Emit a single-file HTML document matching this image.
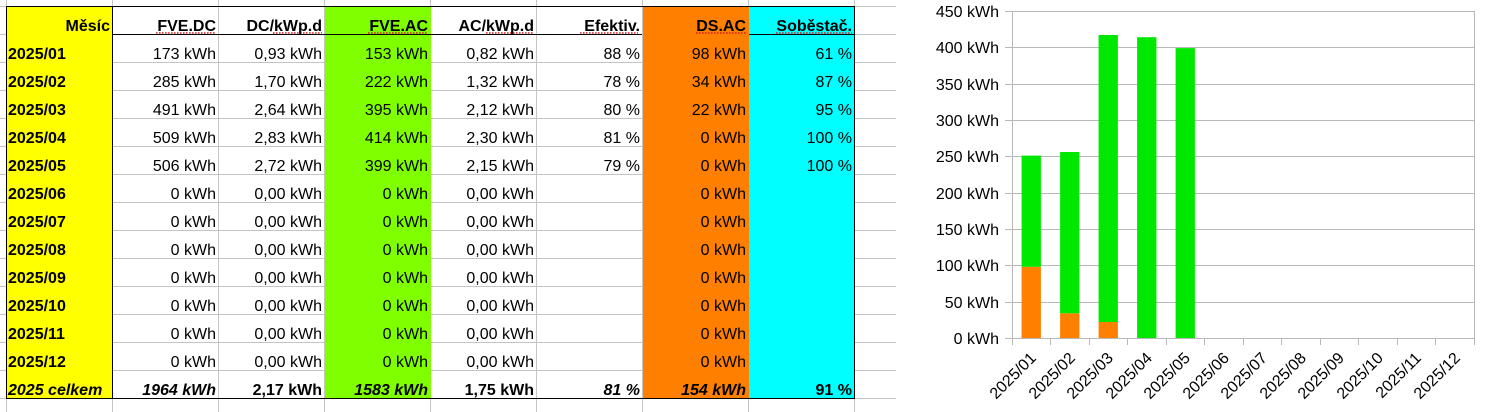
<!DOCTYPE html>
<html><head><meta charset="utf-8"><style>
html,body{margin:0;padding:0;background:#fff;}
svg{display:block;}
text{font-family:"Liberation Sans",Arial,sans-serif;font-size:16px;fill:#000;}
.b{font-weight:bold;}
.bi{font-weight:bold;font-style:italic;}
.e{text-anchor:end;}
</style></head><body>
<svg width="1486" height="412" viewBox="0 0 1486 412" xmlns="http://www.w3.org/2000/svg">
<rect x="0" y="0" width="1486" height="412" fill="#fff"/>
<!-- spreadsheet gridlines -->
<g stroke="#c4c4c4" stroke-width="1" shape-rendering="crispEdges">
<line x1="0" y1="6.5" x2="896" y2="6.5"/>
<line x1="0" y1="34.5" x2="896" y2="34.5"/>
<line x1="0" y1="62.5" x2="896" y2="62.5"/>
<line x1="0" y1="90.5" x2="896" y2="90.5"/>
<line x1="0" y1="118.5" x2="896" y2="118.5"/>
<line x1="0" y1="146.5" x2="896" y2="146.5"/>
<line x1="0" y1="174.5" x2="896" y2="174.5"/>
<line x1="0" y1="202.5" x2="896" y2="202.5"/>
<line x1="0" y1="230.5" x2="896" y2="230.5"/>
<line x1="0" y1="258.5" x2="896" y2="258.5"/>
<line x1="0" y1="286.5" x2="896" y2="286.5"/>
<line x1="0" y1="314.5" x2="896" y2="314.5"/>
<line x1="0" y1="342.5" x2="896" y2="342.5"/>
<line x1="0" y1="370.5" x2="896" y2="370.5"/>
<line x1="0" y1="398.5" x2="896" y2="398.5"/>
<line x1="6.5" y1="0" x2="6.5" y2="412"/>
<line x1="112.5" y1="0" x2="112.5" y2="412"/>
<line x1="218.5" y1="0" x2="218.5" y2="412"/>
<line x1="324.5" y1="0" x2="324.5" y2="412"/>
<line x1="430.5" y1="0" x2="430.5" y2="412"/>
<line x1="536.5" y1="0" x2="536.5" y2="412"/>
<line x1="642.5" y1="0" x2="642.5" y2="412"/>
<line x1="748.5" y1="0" x2="748.5" y2="412"/>
<line x1="854.5" y1="0" x2="854.5" y2="412"/>
</g>
<!-- column fills -->
<g shape-rendering="crispEdges">
<rect x="7" y="7" width="105" height="391" fill="#ffff00"/>
<rect x="325" y="7" width="106" height="391" fill="#80ff00"/>
<rect x="643" y="7" width="106" height="391" fill="#ff8000"/>
<rect x="749" y="7" width="105" height="391" fill="#00ffff"/>
</g>
<!-- black borders -->
<g stroke="#000" stroke-width="1.3" shape-rendering="crispEdges" fill="none">
<rect x="6.5" y="6.5" width="848" height="392"/>
<line x1="112.5" y1="6" x2="112.5" y2="398"/>
<line x1="112" y1="34.5" x2="642" y2="34.5"/>
<line x1="749" y1="34.5" x2="854" y2="34.5"/>
</g>
<!-- spell squiggles -->
<g stroke="#d02020" stroke-width="1.4" stroke-dasharray="1.6 1.4" fill="none">
<line x1="156" y1="33" x2="216" y2="33"/>
<line x1="273" y1="33" x2="322" y2="33"/>
<line x1="368" y1="33" x2="428" y2="33"/>
<line x1="486" y1="33" x2="534" y2="33"/>
<line x1="580" y1="33" x2="638" y2="33"/>
<line x1="696" y1="33" x2="746" y2="33"/>
<line x1="776" y1="33" x2="852" y2="33"/>
</g>
<!-- header -->
<g class="b">
<text class="b e" x="110" y="31">Měsíc</text>
<text class="b e" x="216" y="31">FVE.DC</text>
<text class="b e" x="322" y="31">DC/kWp.d</text>
<text class="b e" x="428" y="31">FVE.AC</text>
<text class="b e" x="534" y="31">AC/kWp.d</text>
<text class="b e" x="640" y="31">Efektiv.</text>
<text class="b e" x="746" y="31">DS.AC</text>
<text class="b e" x="852" y="31">Soběstač.</text>
</g>
<!-- month labels -->
<text class="b" x="8" y="59">2025/01</text>
<text class="b" x="8" y="87">2025/02</text>
<text class="b" x="8" y="115">2025/03</text>
<text class="b" x="8" y="143">2025/04</text>
<text class="b" x="8" y="171">2025/05</text>
<text class="b" x="8" y="199">2025/06</text>
<text class="b" x="8" y="227">2025/07</text>
<text class="b" x="8" y="255">2025/08</text>
<text class="b" x="8" y="283">2025/09</text>
<text class="b" x="8" y="311">2025/10</text>
<text class="b" x="8" y="339">2025/11</text>
<text class="b" x="8" y="367">2025/12</text>
<text class="bi" x="8" y="395">2025 celkem</text>
<!-- FVE.DC -->
<g class="e">
<text class="e" x="216" y="59">173 kWh</text>
<text class="e" x="216" y="87">285 kWh</text>
<text class="e" x="216" y="115">491 kWh</text>
<text class="e" x="216" y="143">509 kWh</text>
<text class="e" x="216" y="171">506 kWh</text>
<text class="e" x="216" y="199">0 kWh</text>
<text class="e" x="216" y="227">0 kWh</text>
<text class="e" x="216" y="255">0 kWh</text>
<text class="e" x="216" y="283">0 kWh</text>
<text class="e" x="216" y="311">0 kWh</text>
<text class="e" x="216" y="339">0 kWh</text>
<text class="e" x="216" y="367">0 kWh</text>
<text class="bi e" x="216" y="395">1964 kWh</text>
<!-- DC/kWp.d -->
<text class="e" x="322" y="59">0,93 kWh</text>
<text class="e" x="322" y="87">1,70 kWh</text>
<text class="e" x="322" y="115">2,64 kWh</text>
<text class="e" x="322" y="143">2,83 kWh</text>
<text class="e" x="322" y="171">2,72 kWh</text>
<text class="e" x="322" y="199">0,00 kWh</text>
<text class="e" x="322" y="227">0,00 kWh</text>
<text class="e" x="322" y="255">0,00 kWh</text>
<text class="e" x="322" y="283">0,00 kWh</text>
<text class="e" x="322" y="311">0,00 kWh</text>
<text class="e" x="322" y="339">0,00 kWh</text>
<text class="e" x="322" y="367">0,00 kWh</text>
<text class="b e" x="322" y="395">2,17 kWh</text>
<!-- FVE.AC -->
<text class="e" x="428" y="59">153 kWh</text>
<text class="e" x="428" y="87">222 kWh</text>
<text class="e" x="428" y="115">395 kWh</text>
<text class="e" x="428" y="143">414 kWh</text>
<text class="e" x="428" y="171">399 kWh</text>
<text class="e" x="428" y="199">0 kWh</text>
<text class="e" x="428" y="227">0 kWh</text>
<text class="e" x="428" y="255">0 kWh</text>
<text class="e" x="428" y="283">0 kWh</text>
<text class="e" x="428" y="311">0 kWh</text>
<text class="e" x="428" y="339">0 kWh</text>
<text class="e" x="428" y="367">0 kWh</text>
<text class="bi e" x="428" y="395">1583 kWh</text>
<!-- AC/kWp.d -->
<text class="e" x="534" y="59">0,82 kWh</text>
<text class="e" x="534" y="87">1,32 kWh</text>
<text class="e" x="534" y="115">2,12 kWh</text>
<text class="e" x="534" y="143">2,30 kWh</text>
<text class="e" x="534" y="171">2,15 kWh</text>
<text class="e" x="534" y="199">0,00 kWh</text>
<text class="e" x="534" y="227">0,00 kWh</text>
<text class="e" x="534" y="255">0,00 kWh</text>
<text class="e" x="534" y="283">0,00 kWh</text>
<text class="e" x="534" y="311">0,00 kWh</text>
<text class="e" x="534" y="339">0,00 kWh</text>
<text class="e" x="534" y="367">0,00 kWh</text>
<text class="b e" x="534" y="395">1,75 kWh</text>
<!-- Efektiv -->
<text class="e" x="640" y="59">88 %</text>
<text class="e" x="640" y="87">78 %</text>
<text class="e" x="640" y="115">80 %</text>
<text class="e" x="640" y="143">81 %</text>
<text class="e" x="640" y="171">79 %</text>
<text class="bi e" x="640" y="395">81 %</text>
<!-- DS.AC -->
<text class="e" x="746" y="59">98 kWh</text>
<text class="e" x="746" y="87">34 kWh</text>
<text class="e" x="746" y="115">22 kWh</text>
<text class="e" x="746" y="143">0 kWh</text>
<text class="e" x="746" y="171">0 kWh</text>
<text class="e" x="746" y="199">0 kWh</text>
<text class="e" x="746" y="227">0 kWh</text>
<text class="e" x="746" y="255">0 kWh</text>
<text class="e" x="746" y="283">0 kWh</text>
<text class="e" x="746" y="311">0 kWh</text>
<text class="e" x="746" y="339">0 kWh</text>
<text class="e" x="746" y="367">0 kWh</text>
<text class="bi e" x="746" y="395">154 kWh</text>
<!-- Sobestac -->
<text class="e" x="852" y="59">61 %</text>
<text class="e" x="852" y="87">87 %</text>
<text class="e" x="852" y="115">95 %</text>
<text class="e" x="852" y="143">100 %</text>
<text class="e" x="852" y="171">100 %</text>
<text class="b e" x="852" y="395">91 %</text>
</g>

<!-- CHART -->
<rect x="896" y="0" width="590" height="412" fill="#fff"/>
<g stroke="#b8b8b8" stroke-width="1" shape-rendering="crispEdges">
<line x1="1005" y1="11.5" x2="1474" y2="11.5"/>
<line x1="1005" y1="47.5" x2="1474" y2="47.5"/>
<line x1="1005" y1="84.5" x2="1474" y2="84.5"/>
<line x1="1005" y1="120.5" x2="1474" y2="120.5"/>
<line x1="1005" y1="156.5" x2="1474" y2="156.5"/>
<line x1="1005" y1="193.5" x2="1474" y2="193.5"/>
<line x1="1005" y1="229.5" x2="1474" y2="229.5"/>
<line x1="1005" y1="265.5" x2="1474" y2="265.5"/>
<line x1="1005" y1="302.5" x2="1474" y2="302.5"/>
<line x1="1005" y1="338.5" x2="1474" y2="338.5"/>
<line x1="1012.5" y1="11" x2="1012.5" y2="345"/>
<line x1="1474.5" y1="11" x2="1474.5" y2="345"/>
<line x1="1050.5" y1="338" x2="1050.5" y2="345"/>
<line x1="1089.5" y1="338" x2="1089.5" y2="345"/>
<line x1="1127.5" y1="338" x2="1127.5" y2="345"/>
<line x1="1166.5" y1="338" x2="1166.5" y2="345"/>
<line x1="1204.5" y1="338" x2="1204.5" y2="345"/>
<line x1="1243.5" y1="338" x2="1243.5" y2="345"/>
<line x1="1281.5" y1="338" x2="1281.5" y2="345"/>
<line x1="1320.5" y1="338" x2="1320.5" y2="345"/>
<line x1="1358.5" y1="338" x2="1358.5" y2="345"/>
<line x1="1397.5" y1="338" x2="1397.5" y2="345"/>
<line x1="1435.5" y1="338" x2="1435.5" y2="345"/>
</g>
<!-- bars -->
<g>
<rect x="1021.6" y="266.8" width="19.3" height="71.2" fill="#ff8000"/>
<rect x="1021.6" y="155.6" width="19.3" height="111.2" fill="#00e800"/>
<rect x="1060.1" y="313.3" width="19.3" height="24.7" fill="#ff8000"/>
<rect x="1060.1" y="152.0" width="19.3" height="161.3" fill="#00e800"/>
<rect x="1098.6" y="322.0" width="19.3" height="16.0" fill="#ff8000"/>
<rect x="1098.6" y="35.0" width="19.3" height="287.0" fill="#00e800"/>
<rect x="1137.1" y="37.2" width="19.3" height="300.8" fill="#00e800"/>
<rect x="1175.6" y="48.1" width="19.3" height="289.9" fill="#00e800"/>
</g>
<!-- y labels -->
<g>
<text class="e" x="999" y="17">450 kWh</text>
<text class="e" x="999" y="53">400 kWh</text>
<text class="e" x="999" y="90">350 kWh</text>
<text class="e" x="999" y="126">300 kWh</text>
<text class="e" x="999" y="162">250 kWh</text>
<text class="e" x="999" y="199">200 kWh</text>
<text class="e" x="999" y="235">150 kWh</text>
<text class="e" x="999" y="271">100 kWh</text>
<text class="e" x="999" y="308">50 kWh</text>
<text class="e" x="999" y="344">0 kWh</text>
</g>
<!-- x labels -->
<g>
<text class="e" transform="translate(1037,359) rotate(-45)">2025/01</text>
<text class="e" transform="translate(1076,359) rotate(-45)">2025/02</text>
<text class="e" transform="translate(1114,359) rotate(-45)">2025/03</text>
<text class="e" transform="translate(1153,359) rotate(-45)">2025/04</text>
<text class="e" transform="translate(1191,359) rotate(-45)">2025/05</text>
<text class="e" transform="translate(1230,359) rotate(-45)">2025/06</text>
<text class="e" transform="translate(1268,359) rotate(-45)">2025/07</text>
<text class="e" transform="translate(1307,359) rotate(-45)">2025/08</text>
<text class="e" transform="translate(1345,359) rotate(-45)">2025/09</text>
<text class="e" transform="translate(1384,359) rotate(-45)">2025/10</text>
<text class="e" transform="translate(1422,359) rotate(-45)">2025/11</text>
<text class="e" transform="translate(1461,359) rotate(-45)">2025/12</text>
</g>
</svg>
</body></html>
